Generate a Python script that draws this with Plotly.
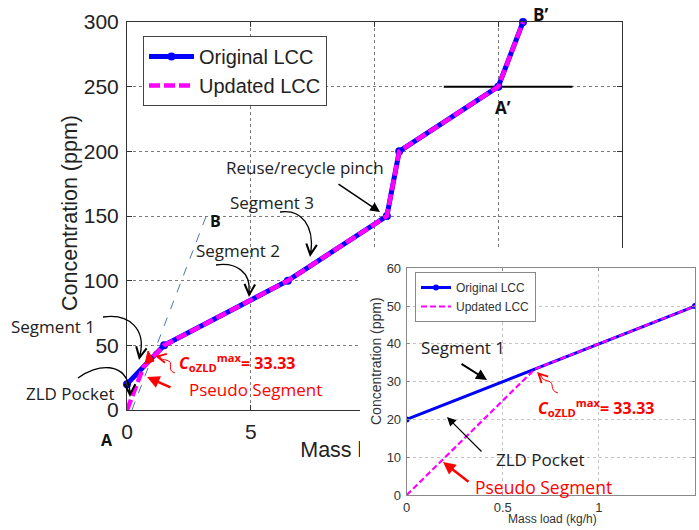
import plotly.graph_objects as go

# Limiting composite curve: mass load (kg/h) vs concentration (ppm)
orig_load = [0, 1.5, 6.5, 10.5, 11, 15, 16]
orig_conc = [20, 50, 100, 150, 200, 250, 300]
upd_load = [0, 0.6667, 1.5, 6.5, 10.5, 11, 15, 16]
upd_conc = [0, 33.33, 50, 100, 150, 200, 250, 300]

# Guide line A-B (parallel to A'-B') and horizontal reference through A'
guide_ab_load = [0.2, 3.2]
guide_ab_conc = [0, 150]
ref_load = [12.8, 18]
ref_conc = [250, 250]

main_xticks = [0, 5, 10, 15, 20]
main_yticks = [0, 50, 100, 150, 200, 250, 300]
inset_xticks = [0, 0.5, 1, 1.5]
inset_xlabels = ["0", "0.5", "1", "1.5"]
inset_yticks = [0, 10, 20, 30, 40, 50, 60]

W, H = 699, 530
BLUE, MAGENTA, RED = "#0000ff", "#ff00ff", "#ff0000"
ARIAL = "Liberation Sans"
SANS = "Open Sans"


def px(x):
    return x / W


def py(y):
    return 1 - y / H


fig = go.Figure()

# ---- main chart (x / y) -------------------------------------------------
fig.add_trace(go.Scatter(x=guide_ab_load, y=guide_ab_conc, mode="lines",
                         line=dict(color="#4f74ad", width=1, dash="dash"),
                         showlegend=False, hoverinfo="skip"))
fig.add_trace(go.Scatter(x=ref_load, y=ref_conc, mode="lines",
                         line=dict(color="black", width=2),
                         showlegend=False, hoverinfo="skip"))
fig.add_trace(go.Scatter(x=orig_load, y=orig_conc, mode="lines+markers",
                         name="Original LCC", cliponaxis=False,
                         line=dict(color=BLUE, width=5),
                         marker=dict(color=BLUE, size=8), legend="legend"))
fig.add_trace(go.Scatter(x=upd_load, y=upd_conc, mode="lines",
                         name="Updated LCC", cliponaxis=False,
                         line=dict(color=MAGENTA, width=4.5, dash="11px,4px"),
                         legend="legend"))

# ---- strip under the main chart holding its x-axis title (x2 / y2) -------
# Drawn in a subplot layer so the inset panel, drawn later, hides its tail.
fig.add_trace(go.Scatter(x=[7.0], y=[78], mode="text", text=["Mass load (kg/h)"],
                         textposition="middle right", cliponaxis=False,
                         xaxis="x2", yaxis="y2",
                         textfont=dict(family=ARIAL, size=21.5, color="#222"),
                         showlegend=False, hoverinfo="skip"))

# ---- white panel behind the inset (x3 / y3) ------------------------------
fig.add_trace(go.Scatter(x=[], y=[], xaxis="x3", yaxis="y3", showlegend=False))

# ---- inset chart (x4 / y4) -----------------------------------------------
fig.add_trace(go.Scatter(x=orig_load, y=orig_conc, mode="lines+markers",
                         name="Original LCC", xaxis="x4", yaxis="y4",
                         line=dict(color=BLUE, width=3),
                         marker=dict(color=BLUE, size=6), legend="legend2"))
fig.add_trace(go.Scatter(x=upd_load, y=upd_conc, mode="lines",
                         name="Updated LCC", xaxis="x4", yaxis="y4",
                         line=dict(color=MAGENTA, width=2.2, dash="6px,3px"),
                         legend="legend2"))

main_axis = dict(showgrid=True, gridcolor="#7a7a7a", griddash="dot", gridwidth=1,
                 zeroline=False, showline=True, linecolor="#333", linewidth=1,
                 mirror="ticks", ticks="inside", ticklen=5, tickcolor="#333",
                 tickfont=dict(family=ARIAL, size=21, color="#222"),
                 ticklabelstandoff=3)
inset_axis = dict(showgrid=True, gridcolor="#c4c4c4", griddash="dot", gridwidth=1,
                  zeroline=False, showline=True, linecolor="#8a8a8a", linewidth=1,
                  mirror="ticks", ticks="inside", ticklen=3, tickcolor="#8a8a8a",
                  tickfont=dict(family=ARIAL, size=13, color="#333"),
                  ticklabelstandoff=2)
hidden = dict(visible=False, showgrid=False, zeroline=False)

fig.update_layout(
    width=W, height=H,
    margin=dict(l=0, r=0, t=0, b=0, autoexpand=False),
    paper_bgcolor="white", plot_bgcolor="white",
    xaxis=dict(main_axis, domain=[px(127), px(622)], range=[0, 20],
               tickvals=main_xticks, anchor="y"),
    yaxis=dict(main_axis, domain=[py(410), py(22)], range=[0, 300],
               tickvals=main_yticks, anchor="x"),
    xaxis2=dict(hidden, domain=[px(127), px(622)], range=[0, 20], anchor="y2"),
    yaxis2=dict(hidden, domain=[0, py(410)], range=[0, 120], anchor="x2"),
    xaxis3=dict(hidden, domain=[px(360), 1], range=[0, 1], anchor="y3"),
    yaxis3=dict(hidden, domain=[0, py(248)], range=[0, 1], anchor="x3"),
    xaxis4=dict(inset_axis, domain=[px(406.7), px(695)], range=[0, 1.5],
                tickvals=inset_xticks, ticktext=inset_xlabels, anchor="y4",
                ticklabelstandoff=0),
    yaxis4=dict(inset_axis, domain=[py(495), py(268.3)], range=[0, 60],
                tickvals=inset_yticks, anchor="x4"),
    legend=dict(x=px(143), y=py(36), xanchor="left", yanchor="top",
                bgcolor="white", bordercolor="#444", borderwidth=1,
                font=dict(family=ARIAL, size=20, color="#222"),
                itemwidth=45, tracegroupgap=0),
    legend2=dict(x=px(415), y=py(272), xanchor="left", yanchor="top",
                 bgcolor="white", bordercolor="#888", borderwidth=1,
                 font=dict(family=ARIAL, size=12, color="#333"),
                 itemwidth=30, tracegroupgap=0),
    showlegend=True,
)

annotations = []
shapes = []


def label(text, x, y, size=17, color="#222", family=SANS, angle=0):
    annotations.append(dict(text=text, x=px(x), y=py(y), xref="paper", yref="paper",
                            showarrow=False, xanchor="center", yanchor="middle",
                            textangle=angle,
                            font=dict(family=family, size=size, color=color)))


def arrow(tip, tail, color="black", width=1.3, head=2, size=1.2):
    annotations.append(dict(text="", x=px(tip[0]), y=py(tip[1]), xref="paper", yref="paper",
                            ax=tail[0] - tip[0], ay=tail[1] - tip[1],
                            showarrow=True, arrowhead=head, arrowsize=size,
                            arrowwidth=width, arrowcolor=color,
                            standoff=0, startstandoff=0))


def curve(points, color="black", width=1.3):
    (x0, y0), rest = points[0], points[1:]
    d = f"M {px(x0)},{py(y0)} C " + " ".join(f"{px(a)},{py(b)}" for a, b in rest)
    shapes.append(dict(type="path", path=d, xref="paper", yref="paper",
                       line=dict(color=color, width=width)))


# axis titles
label("Concentration (ppm)", 70, 213, size=21.5, family=ARIAL, angle=-90)
label("Concentration (ppm)", 376, 361, size=14, family=ARIAL, color="#333", angle=-90)
label("Mass load (kg/h)", 552, 519, size=12, family=ARIAL, color="#333")

# main chart callouts
label("Reuse/recycle pinch", 305, 167)
arrow((380, 212), (337, 183), width=1.5, head=2, size=1.3)

label("Segment 3", 272, 202)
curve([(280, 212), (302, 209), (314, 226), (311, 252)])
arrow((310, 257), (311, 249), head=5, size=1.6)

label("Segment 2", 238, 250)
curve([(216, 265), (236, 262), (251, 272), (249, 292)])
arrow((249, 297), (249.5, 289), head=5, size=1.6)

label("Segment 1", 53, 326)
curve([(103, 317), (130, 313), (146, 330), (140, 355)])
arrow((139, 360), (140.5, 352), head=5, size=1.6)

label("ZLD Pocket", 70, 394)
curve([(78, 378), (96, 364), (127, 360), (130, 392)])
arrow((130, 397), (130, 389), head=5, size=1.6)

label("<b>A</b>", 107, 440, size=16, color="#111")
label("<b>B</b>", 215, 221, size=16, color="#111")
label("<b>A\u2019</b>", 503, 107, size=17, color="#111")
label("<b>B\u2019</b>", 540, 15, size=17, color="#111")

c_text = "<b><i>C</i><sub>oZLD</sub><sup>max</sup>= 33.33</b>"
label(c_text, 237, 362, size=16, color=RED)
shapes.append(dict(type="path", xref="paper", yref="paper",
                   path=f"M {px(145)},{py(364)} L {px(154)},{py(361)} L {px(148)},{py(351)} Z",
                   fillcolor=RED, line=dict(color=RED, width=1)))
shapes.append(dict(type="path", xref="paper", yref="paper",
                   path=(f"M {px(175)},{py(373)} C {px(165)},{py(370)} {px(176)},{py(362)} "
                         f"{px(166)},{py(360)} S {px(162)},{py(357)} {px(160)},{py(357)}"),
                   line=dict(color=RED, width=1)))
arrow((155, 356), (162, 357.5), color=RED, width=1.2, head=5, size=1.5)

label("Pseudo Segment", 255, 389, size=17, color=RED)
arrow((147, 377), (172, 388), color=RED, width=2.5, head=2, size=1)

# inset callouts
label("Segment 1", 463, 347, size=17)
arrow((487, 380), (460, 363), width=2, head=2, size=1.1)

label("ZLD Pocket", 540, 459, size=17)
arrow((447, 417), (483, 453), width=1.2, head=2, size=1.5)

label(c_text, 596, 407, size=16, color=RED)
shapes.append(dict(type="path", xref="paper", yref="paper",
                   path=(f"M {px(558)},{py(393)} C {px(548)},{py(390)} {px(556)},{py(383)} "
                         f"{px(548)},{py(381)} S {px(543)},{py(377)} {px(541)},{py(376)}"),
                   line=dict(color=RED, width=1)))
arrow((537, 372), (543, 378), color=RED, width=1.2, head=5, size=1.5)

label("Pseudo Segment", 543, 487, size=17.5, color=RED)
arrow((443, 462), (470, 483), color=RED, width=2.5, head=2, size=1)

fig.update_layout(annotations=annotations, shapes=shapes)

fig.write_html("out.html")
